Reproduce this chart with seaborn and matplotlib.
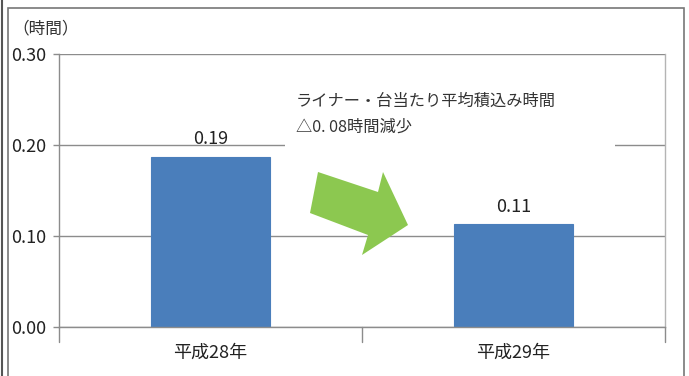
import matplotlib
matplotlib.use("Agg")
import matplotlib.pyplot as plt
import seaborn as sns
import pandas as pd
from matplotlib.patches import Polygon, Rectangle
from matplotlib.lines import Line2D

categories = ["平成28年", "平成29年"]
values = [0.187, 0.113]
value_labels = ["0.19", "0.11"]
y_ticks = [0.00, 0.10, 0.20, 0.30]
y_tick_labels = ["0.00", "0.10", "0.20", "0.30"]
unit_label = "（時間）"
note_lines = ["ライナー・台当たり平均積込み時間", "△0. 08時間減少"]

sns.set_theme(style="white")
plt.rcParams["font.family"] = ["Noto Sans CJK JP", "DejaVu Sans"]
NUM_FAMILY = ["Liberation Sans Narrow", "Noto Sans CJK JP", "DejaVu Sans"]

df = pd.DataFrame({"cat": categories, "val": values})

W, H = 689, 376
fig = plt.figure(figsize=(W / 100, H / 100), dpi=100)
fig.patch.set_facecolor("white")

def fx(px):
    return px / W

def fy(py):
    return 1 - py / H

ax = fig.add_axes([fx(59), fy(327), fx(665) - fx(59), fy(54) - fy(327)])
sns.barplot(data=df, x="cat", y="val", ax=ax, color="#4a7ebb", width=0.395,
            saturation=1, edgecolor="#4a7ebb", linewidth=0.8, zorder=3)
ax.set_ylim(0, 0.30)
ax.set_xlim(-0.5, 1.5)
ax.set_yticks(y_ticks)
ax.set_yticklabels(y_tick_labels, fontsize=13, color="#222222", family=NUM_FAMILY)
ax.set_xlabel("")
ax.set_ylabel("")
ax.set_xticks([0, 1])
ax.set_xticklabels(categories, fontsize=13, color="#222222", family=NUM_FAMILY)
ax.tick_params(axis="x", length=0, pad=12)
ax.tick_params(axis="y", length=4.5, color="#8c8c8c", width=1, pad=5, left=True)
ax.yaxis.grid(True, color="#8c8c8c", linewidth=1, zorder=0)
ax.set_axisbelow(True)
ax.spines["top"].set_visible(False)
for s in ["left", "bottom"]:
    ax.spines[s].set_color("#8c8c8c")
    ax.spines[s].set_linewidth(1)
ax.spines["right"].set_color("#b4b4b4")
ax.spines["right"].set_linewidth(1)
ax.spines["bottom"].set_zorder(4)
# category separator ticks
for xb in [-0.5, 0.5, 1.5]:
    ax.plot([xb, xb], [0, -0.016], color="#8c8c8c", lw=1, clip_on=False, zorder=4)

for i, (v, lab) in enumerate(zip(values, value_labels)):
    ax.text(i, v + 0.0095, lab, ha="center", va="bottom", fontsize=13,
            color="#222222", family=NUM_FAMILY, zorder=5)

# unit label
fig.text(fx(12), fy(29), unit_label, fontsize=12, color="#333333", va="center", ha="left")

# note text box (white background hides gridline)
fig.patches.append(Rectangle((fx(285), fy(150)), fx(615) - fx(285), fy(82) - fy(150),
                             transform=fig.transFigure, facecolor="white", edgecolor="none", zorder=2))
ax.set_zorder(1)
fig.text(fx(296), fy(101), note_lines[0], fontsize=11.7, color="#333333", va="center", ha="left", zorder=6)
fig.text(fx(296), fy(127), note_lines[1], fontsize=11.7, color="#333333", va="center", ha="left", zorder=6)

# green arrow
pts = [(318, 172), (378, 192), (383, 172), (408, 225), (362, 255), (368, 235), (310, 213)]
fig.patches.append(Polygon([(fx(x), fy(y)) for x, y in pts], closed=True,
                           transform=fig.transFigure, facecolor="#8cc850", edgecolor="none", zorder=7))

# frame
fig.patches.append(Rectangle((fx(8), fy(380)), fx(684) - fx(8), fy(8) - fy(380),
                             transform=fig.transFigure, facecolor="none", edgecolor="#777777", lw=1.2, zorder=8))
fig.lines.append(Line2D([fx(1.5), fx(1.5)], [0, 1], transform=fig.transFigure, color="#555555", lw=1.5))

fig.savefig("out.png", dpi=100, facecolor="white")
